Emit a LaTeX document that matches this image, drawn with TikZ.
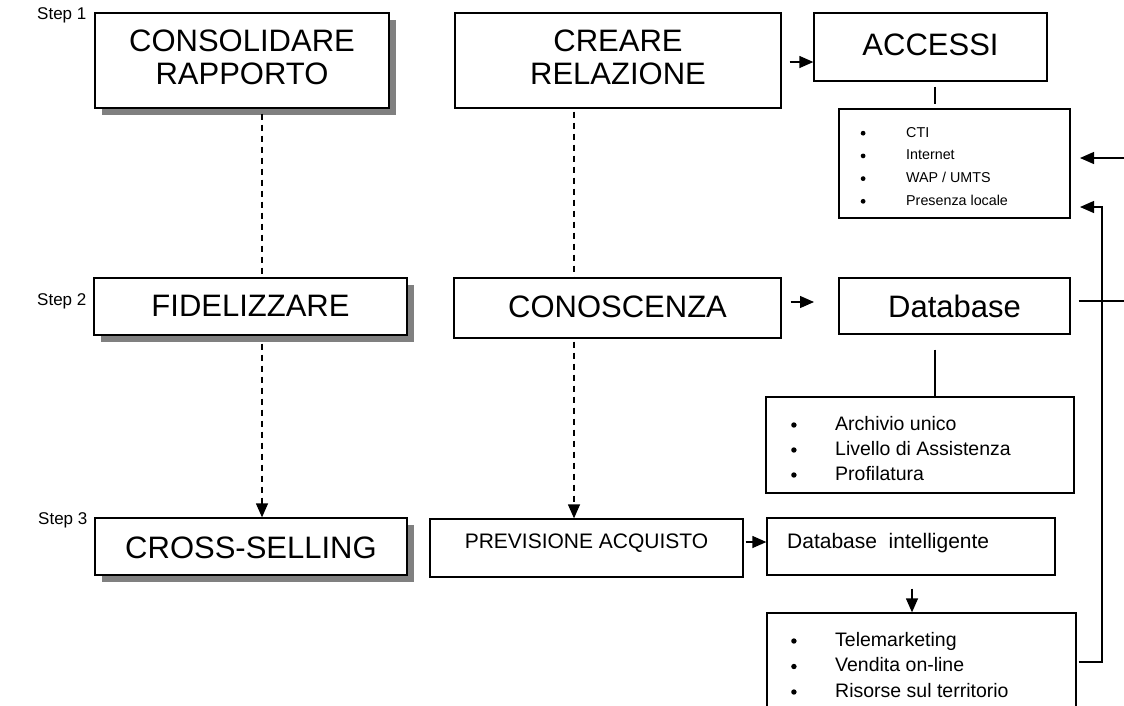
\documentclass[tikz,border=0pt]{standalone}
\usepackage{fontspec}
\setmainfont{Liberation Sans}
\usetikzlibrary{arrows.meta,shadows,fit}
\newcommand{\bdot}[2]{\tikz[x=1pt,y=1pt,baseline=0pt]\fill[black] (#1,#2) circle[radius=#1];}
\begin{document}
\begin{tikzpicture}[x=1pt,y=-1pt,
  frame/.style={draw,line width=1.3pt,fill=white,inner sep=0pt},
  shadowed/.style={frame,drop shadow={shadow xshift=7pt,shadow yshift=-7pt,fill=black!50,opacity=1}},
  big/.style={font=\fontsize{31}{33}\selectfont,align=center,inner sep=0pt},
  mid/.style={font=\fontsize{21}{23}\selectfont,inner sep=0pt},
  steplbl/.style={font=\fontsize{17}{19}\selectfont,inner sep=0pt,anchor=west},
  conn/.style={line width=1.3pt},
  dashconn/.style={line width=1.3pt,dash pattern=on 6pt off 5pt},
  tip/.style={-{Triangle[length=14pt,width=12pt]}}
]
\useasboundingbox (0,0) rectangle (1124,705);
\clip (0,0) rectangle (1124,705);

% helper coordinates
\coordinate (d1) at (262,0);
\coordinate (d2) at (574,0);
\coordinate (c935) at (935,0);
\coordinate (c912) at (912,0);
\coordinate (yA) at (0,62);
\coordinate (dbin) at (814,302);
\coordinate (y542) at (0,542);
\coordinate (fbA) at (1102,662);
\coordinate (fbB) at (1102,207);
\coordinate (fbT) at (1080,207);
\coordinate (dbR) at (1124,301);
\coordinate (inA) at (1124,158);
\coordinate (inT) at (1080,158);

% boxes
\node[shadowed,fit={(95,13) (389,108)}] (cons) {};
\node[frame,fit={(455,13) (781,108)}] (crea) {};
\node[frame,fit={(814,13) (1047,81)}] (acc) {};
\node[frame,fit={(839,109) (1070,218)}] (acclist) {};
\node[shadowed,fit={(94,278) (407,335)}] (fid) {};
\node[frame,fit={(454,278) (781,338)}] (cono) {};
\node[frame,fit={(839,278) (1070,334)}] (db) {};
\node[frame,fit={(766,397) (1074,493)}] (dblist) {};
\node[shadowed,fit={(95,518) (407,575)}] (cross) {};
\node[frame,fit={(430,519) (743,577)}] (prev) {};
\node[frame,fit={(767,518) (1055,575)}] (dbint) {};
\node[frame,fit={(767,613) (1076,730)}] (tele) {};

% connectors
\draw[dashconn] ([yshift=-5pt]cons.south -| d1) -- (fid.north -| d1);
\draw[dashconn,tip] ([yshift=-8pt]fid.south -| d1) -- (cross.north -| d1);
\draw[dashconn] ([yshift=-3pt]crea.south -| d2) -- (cono.north -| d2);
\draw[dashconn,tip] ([yshift=-3pt]cono.south -| d2) -- (prev.north -| d2);
\draw[conn,tip] (crea.east |- yA) ++(8,0) -- (acc.west |- yA);
\draw[conn] ([yshift=-5pt]acc.south -| c935) -- ([yshift=4pt]acclist.north -| c935);
\draw[conn,tip] (cono.east |- dbin) ++(9,0) -- (dbin);
\draw[conn] ([yshift=-15pt]db.south -| c935) -- (dblist.north -| c935);
\draw[conn,tip] (prev.east |- y542) ++(2,0) -- (dbint.west |- y542);
\draw[conn,tip] ([yshift=-13pt]dbint.south -| c912) -- (tele.north -| c912);
\draw[conn,tip] (tele.east |- fbA) ++(2,0) -- (fbA) -- (fbB) -- (fbT);
\draw[conn] (db.east |- dbR) ++(8,0) -- (dbR);
\draw[conn,tip] (inA) -- (inT);

% texts
\node[steplbl] (s1) at (37,15) {Step 1};
\node[steplbl] (s2) at (37,301) {Step 2};
\node[steplbl] (s3) at (38,520) {Step 3};
\node[big] (consT) at (242,57) {CONSOLIDARE\\RAPPORTO};
\node[big] (creaT) at (618,57) {CREARE\\RELAZIONE};
\node[big] (accT) at (930.5,45) {ACCESSI};
\node[big] (fidT) at (250.5,306) {FIDELIZZARE};
\node[big] (conoT) at (617.5,307) {CONOSCENZA};
\node[big] (dbT) at (954.5,306) {Database};
\node[big] (crossT) at (251,548) {CROSS-SELLING};
\node[mid] (prevT) at (586.5,543) {PREVISIONE ACQUISTO};
\node[mid,anchor=base west] (dbintT) at (787,548) {Database\ \ intelligente};

\node[inner sep=0pt,anchor=base west,font=\fontsize{14.3}{22.7}\selectfont] (acclistT) at (860.5,137)
  {\begin{tabular}[t]{@{}p{45.5pt}@{}l@{}}\bdot{2.4}{3.8} & CTI\\ \bdot{2.4}{3.8} & Internet\\ \bdot{2.4}{3.8} & WAP / UMTS\\ \bdot{2.4}{3.8} & Presenza locale\end{tabular}};
\node[inner sep=0pt,anchor=base west,font=\fontsize{19.5}{25}\selectfont] (dblistT) at (791,430)
  {\begin{tabular}[t]{@{}p{44pt}@{}l@{}}\bdot{2.7}{5} & Archivio unico\\ \bdot{2.7}{5} & Livello di Assistenza\\ \bdot{2.7}{5} & Profilatura\end{tabular}};
\node[inner sep=0pt,anchor=base west,font=\fontsize{19.5}{25.5}\selectfont] (teleT) at (791,646)
  {\begin{tabular}[t]{@{}p{44pt}@{}l@{}}\bdot{2.7}{5} & Telemarketing\\ \bdot{2.7}{5} & Vendita on-line\\ \bdot{2.7}{5} & Risorse sul territorio\end{tabular}};
\end{tikzpicture}
\end{document}
